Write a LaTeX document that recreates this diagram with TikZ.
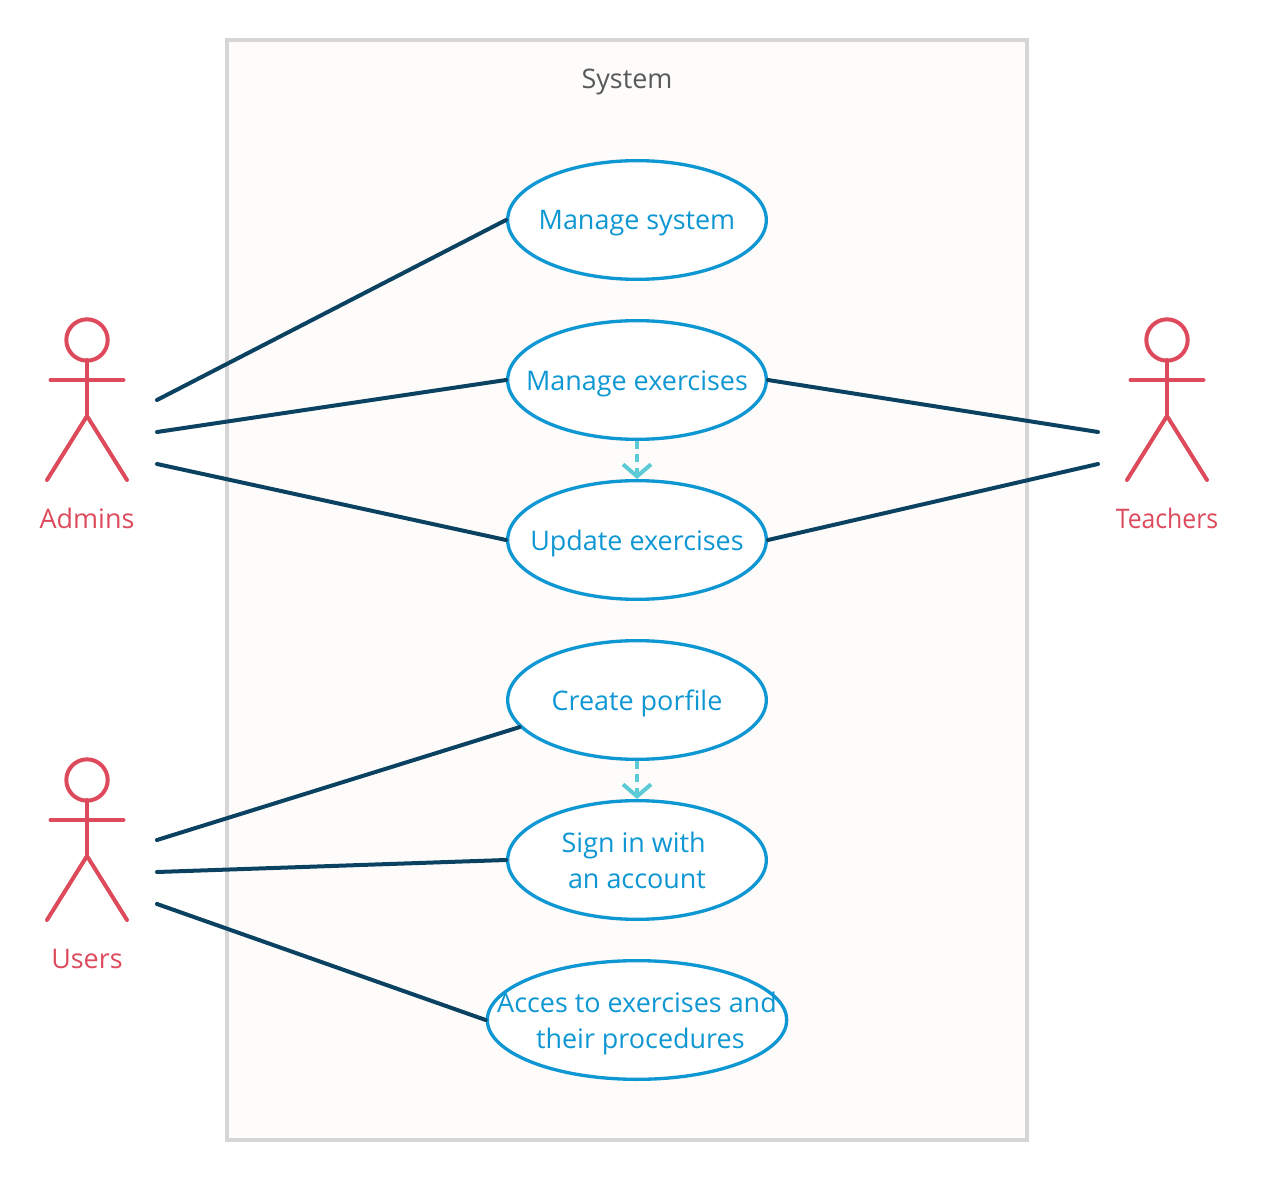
\documentclass[tikz,border=0pt]{standalone}
\usepackage{fontspec}
\setmainfont{Open Sans}
\usetikzlibrary{shapes.geometric,arrows.meta}
\definecolor{ucblue}{HTML}{0F97D3}
\definecolor{ucnavy}{HTML}{0B4261}
\definecolor{ucred}{HTML}{DC4A5C}
\definecolor{uccyan}{HTML}{5CCBD6}
\definecolor{ucgrey}{HTML}{D6D6D6}
\definecolor{ucfill}{HTML}{FDFCFB}
\definecolor{uctext}{HTML}{595959}
\tikzset{
  usecase/.style={draw=ucblue,line width=2.5pt,ellipse,fill=white,inner sep=0pt,
    minimum width=194pt,minimum height=89pt},
  casetext/.style={text=ucblue,align=center,inner sep=0pt,yshift=-2.6pt,font=\fontsize{20.2}{27}\selectfont},
  assoc/.style={draw=ucnavy,line width=3pt,line cap=round},
  dep/.style={draw=uccyan,line width=3pt,dash pattern=on 6pt off 4pt,-{Straight Barb[length=9pt,width=21pt,line width=3pt]}},
  actor/.style={draw=ucred,line width=3pt,line cap=round},
  actorname/.style={text=ucred,font=\fontsize{20.2}{25}\selectfont,inner sep=0pt}
}
\begin{document}
\begin{tikzpicture}[x=.75pt,y=-.75pt]
\useasboundingbox (0,0) rectangle (1261,1180);
\draw[draw=ucgrey,fill=ucfill,line width=3pt] (227,40) rectangle (1027,1140);
\node[text=uctext,font=\fontsize{20.2}{25}\selectfont,inner sep=0pt] (systemlabel) at (627,82) {System};
% use cases
\node[usecase,label={[casetext]center:Manage system}] (managesystem) at (637,220) {};
\node[usecase,label={[casetext]center:Manage exercises}] (manageex) at (637,380) {};
\node[usecase,label={[casetext]center:Update exercises}] (updateex) at (637,540) {};
\node[usecase,label={[casetext]center:Create porfile}] (profile) at (637,700) {};
\node[usecase,label={[casetext,yshift=2.2pt]center:Sign in with\rule{5pt}{0pt}\\an account}] (signin) at (637,860) {};
\node[usecase,minimum width=224.5pt,label={[casetext]center:Acces to exercises and\\\hspace{5pt}their procedures}] (access) at (637,1020) {};
% actors
\foreach \name/\cx/\cy/\ly/\lab in {admins/87/340/518/Admins,teachers/1167/340/518/{\scalebox{.92}[1]{Teachers}},users/87/780/959/Users}{
  \draw[actor] (\cx,\cy) circle (15.5pt);
  \draw[actor] (\cx,\cy+20) -- (\cx,\cy+76) (\cx-36.5,\cy+40) -- (\cx+36.5,\cy+40);
  \draw[actor] (\cx-40,\cy+140) -- (\cx,\cy+76) -- (\cx+40,\cy+140);
  \node[actorname] (\name) at (\cx,\ly) {\lab};
}
\coordinate (admina) at (157,400);
\coordinate (adminb) at (157,432);
\coordinate (adminc) at (157,464);
\coordinate (teacha) at (1098,432);
\coordinate (teachb) at (1098,464);
\coordinate (usera) at (157,840);
\coordinate (userb) at (157,872);
\coordinate (userc) at (157,904);
\draw[assoc] (admina) -- (managesystem.west);
\draw[assoc] (adminb) -- (manageex.west);
\draw[assoc] (adminc) -- (updateex.west);
\draw[assoc] (manageex.east) -- (teacha);
\draw[assoc] (updateex.east) -- (teachb);
\draw[assoc] (usera) -- (profile.193);
\draw[assoc] (userb) -- (signin.west);
\draw[assoc] (userc) -- (access.west);
\draw[dep] (manageex) -- (updateex);
\draw[dep] (profile) -- (signin);
\end{tikzpicture}
\end{document}
